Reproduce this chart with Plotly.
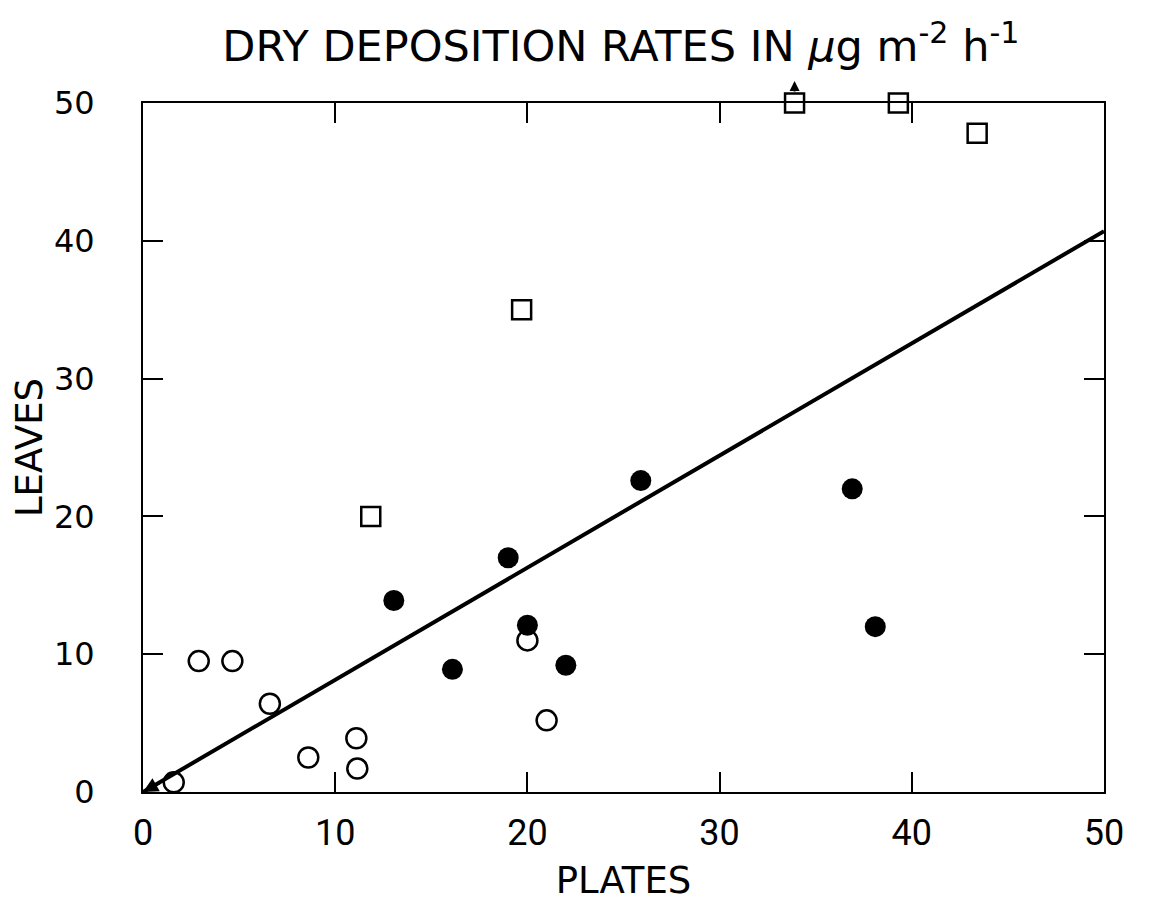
import plotly.graph_objects as go

# Open circles
open_x = [1.6, 2.9, 4.65, 6.6, 8.6, 11.1, 11.15, 20.0, 21.0]
open_y = [0.7, 9.5, 9.5, 6.4, 2.5, 3.9, 1.7, 11.0, 5.2]

# Filled circles
filled_x = [13.05, 16.1, 19.0, 20.0, 22.0, 25.9, 36.9, 38.1]
filled_y = [13.9, 8.9, 17.0, 12.1, 9.2, 22.6, 22.0, 12.0]

# Squares
square_x = [11.85, 19.7, 33.9, 39.3, 43.4]
square_y = [20.0, 35.0, 50.0, 50.0, 47.8]

# Regression line
fit_x = [0, 50]
fit_y = [0, 40.7]

tick_vals = [0, 10, 20, 30, 40, 50]
tick_text = ["0", "10", "20", "30", "40", "50"]

NARROW = "Roboto"
WIDE = "DejaVu Sans"

fig = go.Figure()
fig.add_trace(go.Scatter(x=fit_x, y=fit_y, mode="lines",
                         line=dict(color="black", width=4), showlegend=False))
fig.add_trace(go.Scatter(x=open_x, y=open_y, mode="markers", cliponaxis=False,
                         marker=dict(symbol="circle-open", size=20, color="black",
                                     line=dict(width=2.5)), showlegend=False))
fig.add_trace(go.Scatter(x=filled_x, y=filled_y, mode="markers", cliponaxis=False,
                         marker=dict(symbol="circle", size=21, color="black"),
                         showlegend=False))
fig.add_trace(go.Scatter(x=square_x, y=square_y, mode="markers", cliponaxis=False,
                         marker=dict(symbol="square", size=19, color="white",
                                     line=dict(color="black", width=2.5)),
                         showlegend=False))

axis_common = dict(
    range=[0, 50], tickvals=tick_vals, ticktext=tick_text,
    ticks="inside", ticklen=20, tickwidth=2, tickcolor="black",
    showline=True, linewidth=2, linecolor="black", mirror="ticks",
    showgrid=False, zeroline=False,
)

fig.update_layout(
    width=1152, height=915,
    margin=dict(l=135, r=56, t=95, b=131),
    paper_bgcolor="white", plot_bgcolor="white",
    xaxis=dict(**axis_common, ticklabelstandoff=8,
               tickfont=dict(family=NARROW, size=36, color="black"),
               title=dict(text="PLATES", font=dict(family=WIDE, size=37, color="black"),
                          standoff=14)),
    yaxis=dict(**axis_common, ticklabelstandoff=40,
               tickfont=dict(family=WIDE, size=32, color="black"),
               title=dict(text="LEAVES", font=dict(family=WIDE, size=37, color="black"),
                          standoff=6)),
    title=dict(text="DRY DEPOSITION RATES IN <i>μ</i>g m<sup>-2</sup> h<sup>-1</sup>",
               x=0.532, xanchor="center", y=0.958, yanchor="middle",
               font=dict(family=WIDE, size=43, color="black")),
)

# arrow above the square at the top edge
fig.add_annotation(x=square_x[2], y=50, xref="x", yref="y", text="",
                   showarrow=True, arrowhead=2, arrowsize=1, arrowwidth=2,
                   arrowcolor="black", ax=0, ay=12, yshift=22, standoff=0)
# arrowhead at origin
fig.add_annotation(x=0, y=0, xref="x", yref="y", text="",
                   showarrow=True, arrowhead=2, arrowsize=1, arrowwidth=3,
                   arrowcolor="black", ax=18, ay=-10, standoff=0)

fig.write_html("out.html")
